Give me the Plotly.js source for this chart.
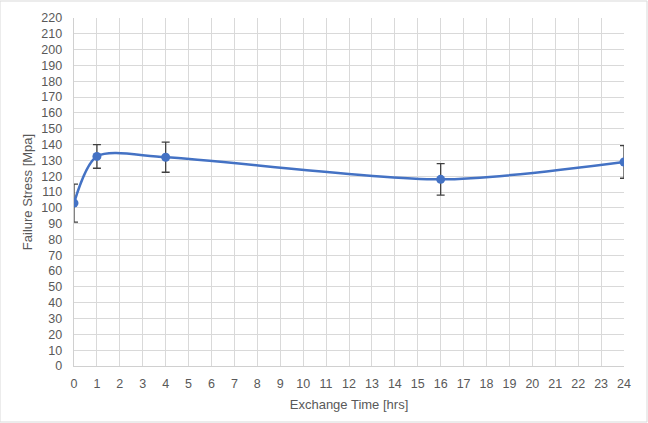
<!DOCTYPE html>
<html><head><meta charset="utf-8">
<script src="https://cdn.plot.ly/plotly-3.0.1.min.js"></script>
<style>html,body{margin:0;padding:0;background:#fff}#c{width:648px;height:423px}</style>
</head><body><div id="c"></div>
<script>
const exchangeTime = [0, 1, 4, 16, 24];
const failureStress = [103, 132.5, 132, 118, 129];
const stressError = [12, 7.5, 9.5, 10, 10.3];
const xTickVals = Array.from({length: 25}, (_, i) => i);

const trace = {
  x: exchangeTime, y: failureStress, type: 'scatter', mode: 'lines+markers',
  line: {color: '#4472C4', width: 2.5, shape: 'spline', smoothing: 0.8},
  marker: {color: '#4472C4', size: 9},
  error_y: {type: 'data', array: stressError, visible: true, color: '#404040', thickness: 1.3, width: 4},
  hoverinfo: 'skip'
};
const font = {family: 'Liberation Sans, Arial, sans-serif', size: 12.5, color: '#595959'};
const titleFont = {family: 'Liberation Sans, Arial, sans-serif', size: 13, color: '#595959'};
const layout = {
  width: 648, height: 423,
  margin: {l: 74, r: 24, t: 18, b: 57},
  paper_bgcolor: '#fff', plot_bgcolor: '#fff',
  showlegend: false, font: font,
  xaxis: {range: [0, 24], tickvals: xTickVals, ticktext: xTickVals.map(String),
    showgrid: true, gridcolor: '#d9d9d9', gridwidth: 1, zeroline: false,
    showline: true, linecolor: '#d0d0d0', linewidth: 1.3, ticks: '', ticklen: 0,
    ticklabelstandoff: 6,
    tickfont: font, title: {text: 'Exchange Time [hrs]', font: titleFont, standoff: 9}},
  yaxis: {range: [0, 220], dtick: 10, tick0: 0,
    showgrid: true, gridcolor: '#d9d9d9', gridwidth: 1, zeroline: false,
    showline: true, linecolor: '#d0d0d0', linewidth: 1.3, ticks: '',
    ticklabelstandoff: 8,
    tickfont: font, title: {text: 'Failure Stress [Mpa]', font: titleFont, standoff: 5}},
  shapes: [{type: 'rect', xref: 'paper', yref: 'paper', x0: -74/550, x1: 1 + 23/550, y0: -56/348, y1: 1 + 17/348,
    line: {color: '#d9d9d9', width: 1}, fillcolor: 'rgba(0,0,0,0)', layer: 'below'}]
};
Plotly.newPlot('c', [trace], layout, {staticPlot: true, displayModeBar: false});
</script></body></html>
